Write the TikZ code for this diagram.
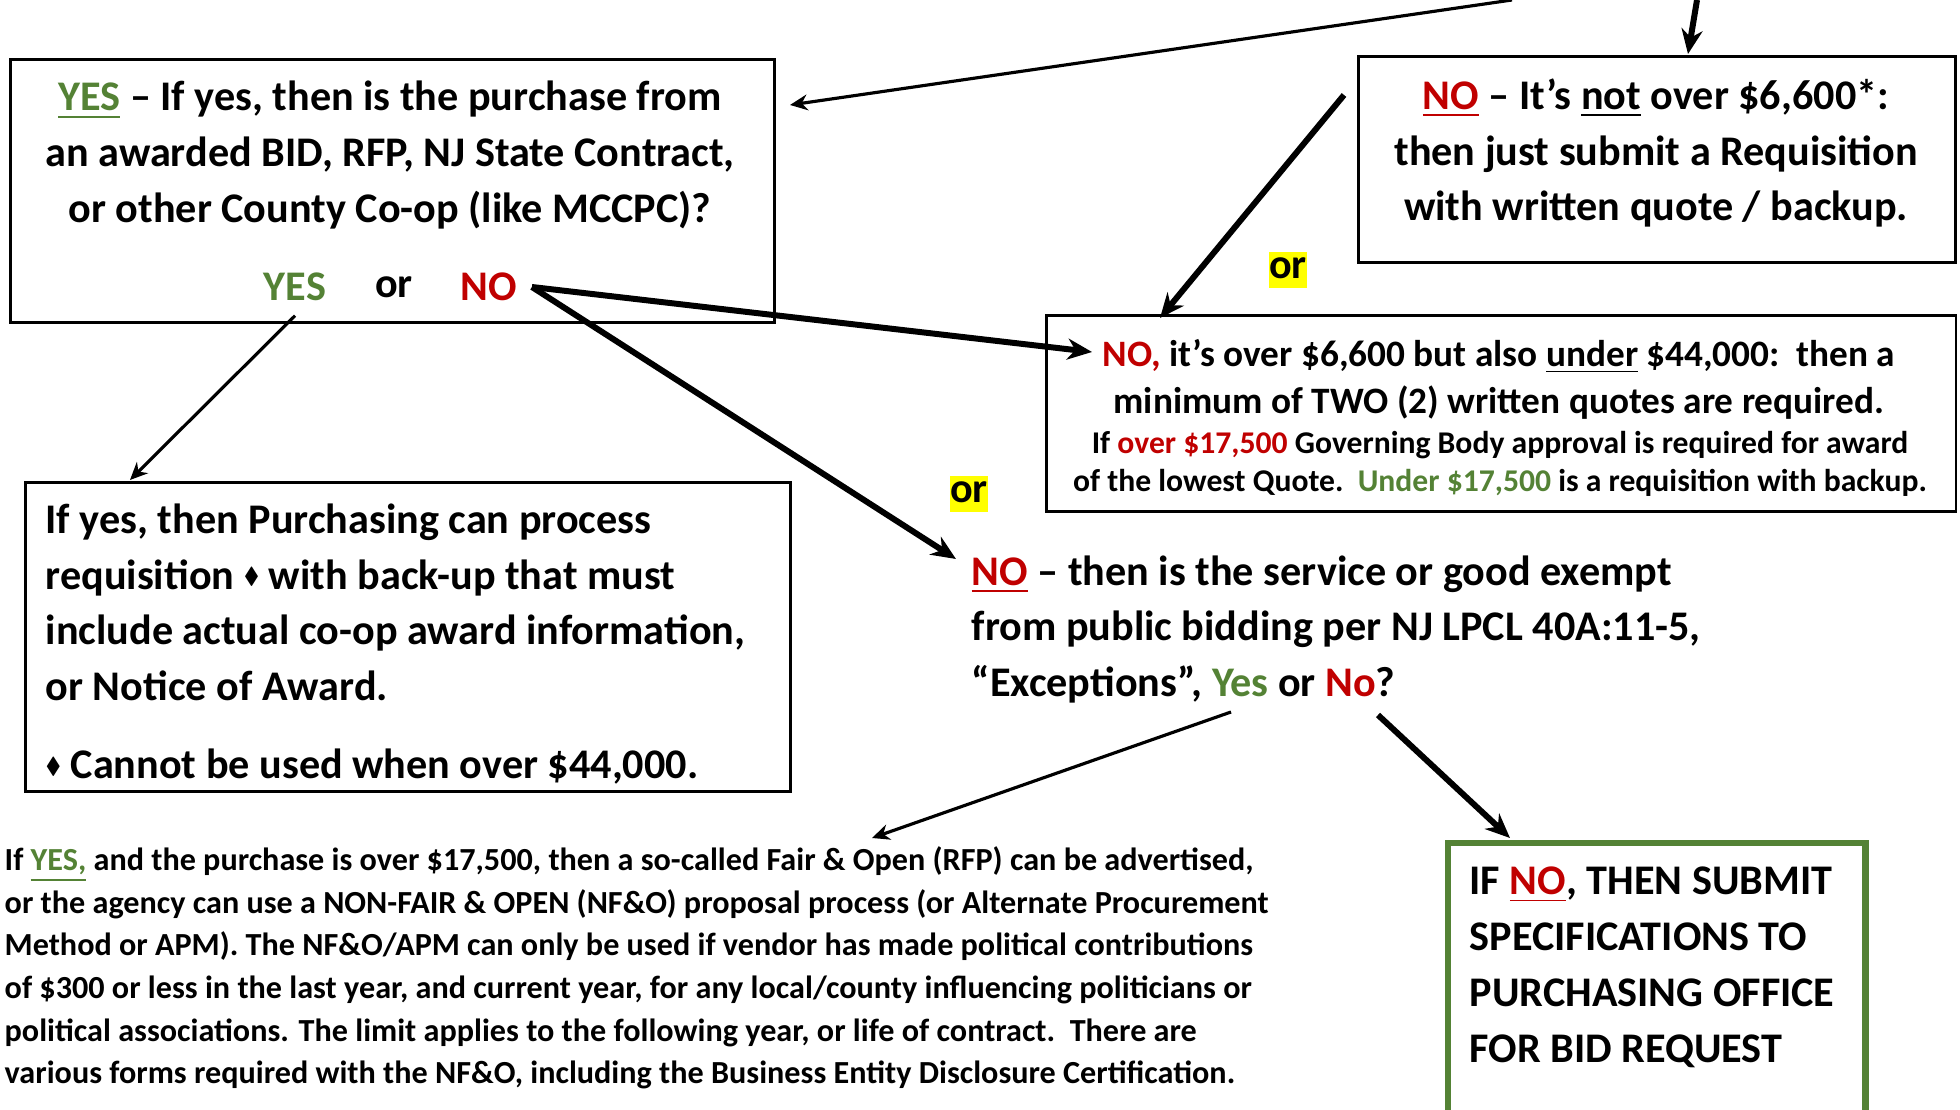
\documentclass[tikz,border=0pt]{standalone}
\usepackage{amsmath}
\usepackage{amssymb}
\usepackage{xcolor}
\usepackage{fontspec}
\setmainfont{Carlito}
\usetikzlibrary{arrows.meta}

\definecolor{ygreen}{RGB}{84,130,53}
\definecolor{nred}{RGB}{192,0,0}
\definecolor{hlyellow}{RGB}{255,255,0}

\newcommand{\gtxt}[1]{\textcolor{ygreen}{#1}}
\newcommand{\rtxt}[1]{\textcolor{nred}{#1}}
\newcommand{\dmd}{\raisebox{0.25ex}{\scalebox{0.55}{$\blacklozenge$}}}

\tikzset{
  bigtext/.style={font=\fontsize{12}{15.9}\selectfont\bfseries, inner sep=0pt},
  midtext/.style={font=\fontsize{10.6}{13.3}\selectfont\bfseries, inner sep=0pt},
  smalltext/.style={font=\fontsize{9}{10.8}\selectfont\bfseries, inner sep=0pt},
  notetext/.style={font=\fontsize{9.15}{12.1}\selectfont\bfseries, inner sep=0pt},
  boxframe/.style={draw, line width=0.8pt, inner sep=0pt, anchor=north west},
  hilite/.style={bigtext, fill=hlyellow, text height=0.75em, text depth=0.25em},
  thinarrow/.style={line width=0.9pt, -{Stealth[length=5pt,width=4.5pt]}},
  thickarrow/.style={line width=1.7pt, -{Stealth[length=7pt,width=6pt]}}
}

\begin{document}
\begin{tikzpicture}[x=0.01cm,y=-0.01cm]
\useasboundingbox (0,0) rectangle (1960,1110);
\clip (0,0) rectangle (1960,1110);

% boxes
\node[boxframe, minimum width=7.64cm, minimum height=2.63cm] (boxA) at (9,58) {};
\node[boxframe, minimum width=5.97cm, minimum height=2.06cm] (boxB) at (1357,55) {};
\node[boxframe, minimum width=9.09cm, minimum height=1.96cm] (boxD) at (1045,314) {};
\node[boxframe, minimum width=7.65cm, minimum height=3.09cm] (boxC) at (24,481) {};
\node[boxframe, draw=ygreen, line width=1.8pt, minimum width=4.17cm, minimum height=3.2cm] (boxG) at (1445,840) {};

% texts
\node[bigtext, align=center] (atext) at (390,155)
  {\gtxt{\underline{YES}} -- If yes, then is the purchase from\\
   an awarded BID, RFP, NJ State Contract,\\
   or other County Co-op (like MCCPC)?};
\node[bigtext, inner sep=4pt, text=ygreen] (yes) at (295,287) {YES};
\node[bigtext, inner sep=4pt] (aor) at (394,287) {or};
\node[bigtext, inner sep=4pt, text=nred] (no) at (489,287) {NO};

\node[bigtext, align=center] (btext) at (1656,153)
  {\rtxt{\underline{NO}} -- It’s \underline{not} over \$6,600*:\\
   then just submit a Requisition\\
   with written quote / backup.};

\node[midtext, align=center] (dtext) at (1499,379)
  {\rtxt{NO,} it’s over \$6,600 but also \underline{under} \$44,000:\ \ then a\\
   minimum of TWO (2) written quotes are required.};
\node[smalltext, align=center] (dnote) at (1500,464)
  {If \rtxt{over \$17,500} Governing Body approval is required for award\\
   of the lowest Quote.\ \ \gtxt{Under \$17,500} is a requisition with backup.};

\node[hilite] (or1) at (1288,270) {or};
\node[hilite] (or2) at (969,494) {or};

\node[bigtext, align=left, anchor=west] (ctext) at (45,644)
  {If yes, then Purchasing can process\\
   requisition \dmd\ with back-up that must\\
   include actual co-op award information,\\
   or Notice of Award.\\[0.22cm]
   \dmd\ Cannot be used when over \$44,000.};

\node[bigtext, align=left, anchor=west] (etext) at (971,629.5)
  {\rtxt{\underline{NO}} -- then is the service or good exempt\\
   from public bidding per NJ LPCL 40A:11-5,\\
   “Exceptions”, \gtxt{Yes} or \rtxt{No}?};

\node[notetext, align=left, anchor=west] (ftext) at (4,968)
  {If \gtxt{\underline{YES,}} and the purchase is over \$17,500, then a so-called Fair \& Open (RFP) can be advertised,\\
   or the agency can use a NON-FAIR \& OPEN (NF\&O) proposal process (or Alternate Procurement\\
   Method or APM). The NF\&O/APM can only be used if vendor has made political contributions\\
   of \$300 or less in the last year, and current year, for any local/county influencing politicians or\\
   political associations. The limit applies to the following year, or life of contract.\ \ There are\\
   various forms required with the NF\&O, including the Business Entity Disclosure Certification.};

\node[bigtext, align=left, anchor=west] (gtext) at (1469,967)
  {IF \rtxt{\underline{NO}}, THEN SUBMIT\\
   SPECIFICATIONS TO\\
   PURCHASING OFFICE\\
   FOR BID REQUEST};

% arrow ends
\coordinate (topL) at (1512,0);
\coordinate (aIn) at (790,105);
\coordinate (topR) at (1697,0);
\coordinate (bIn) at (1688,54);
\coordinate (bOut) at (1344,95);
\coordinate (dTop) at (1160,318);
\coordinate (dIn) at (1092,352);
\coordinate (eIn) at (956,559);
\coordinate (cIn) at (130,480);
\coordinate (eYes) at (1231,712);
\coordinate (fIn) at (872,838);
\coordinate (eNo) at (1378,715);
\coordinate (gIn) at (1510,838);

% arrows
\draw[thinarrow] (topL) -- (aIn);
\draw[thickarrow] (topR) -- (bIn);
\draw[thickarrow] (bOut) -- (dTop);
\draw[thickarrow] (no.east) -- (dIn);
\draw[thickarrow] (no.east) -- (eIn);
\draw[thinarrow] (yes.south) -- (cIn);
\draw[thinarrow] (eYes) -- (fIn);
\draw[thickarrow] (eNo) -- (gIn);

\end{tikzpicture}
\end{document}
